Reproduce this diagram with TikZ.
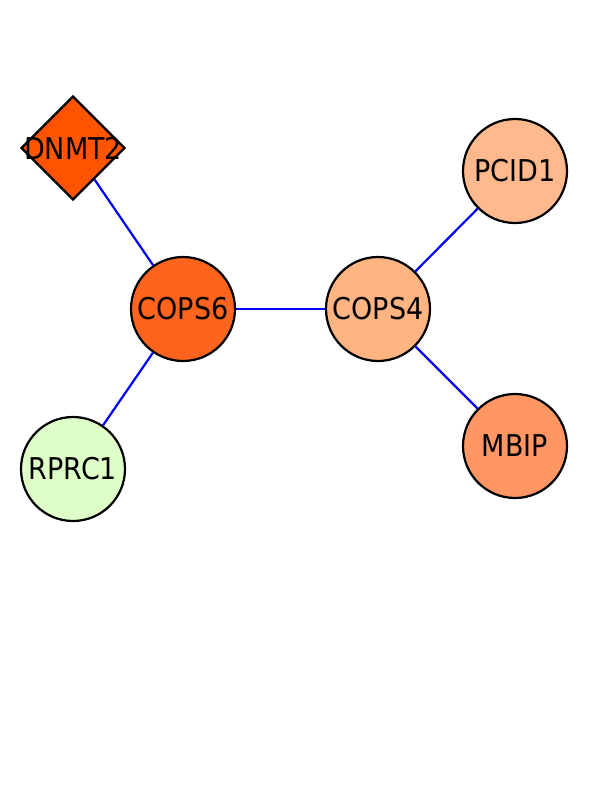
\documentclass[tikz,border=0pt]{standalone}
\usepackage{fontspec}
\setmainfont{DejaVu Sans Condensed}
\usetikzlibrary{shapes.geometric}
\definecolor{dnmtfill}{RGB}{255, 85, 0}
\definecolor{copssixfill}{RGB}{255, 100, 30}
\definecolor{copsfourfill}{RGB}{255, 180, 130}
\definecolor{pcidfill}{RGB}{255, 185, 140}
\definecolor{mbipfill}{RGB}{255, 150, 100}
\definecolor{rprcfill}{RGB}{222, 255, 200}
\definecolor{edgeblue}{RGB}{0, 0, 255}

\begin{document}
\begin{tikzpicture}[x=1pt, y=-1pt,
  every node/.style={font=\fontsize{30}{32}\selectfont},
  gene/.style={draw, line width=2.2pt, circle, minimum size=104pt, inner sep=0pt},
  link/.style={draw=edgeblue, line width=2.2pt}]
  \useasboundingbox (0,0) rectangle (612,792);
  \node[draw, line width=2.2pt, diamond, fill=dnmtfill, minimum size=104pt, inner sep=0pt, label={center:DNMT2}] (dnmt) at (73,148) {};
  \node[gene, fill=copssixfill] (cops6) at (183,309) {COPS6};
  \node[gene, fill=copsfourfill] (cops4) at (378,309) {COPS4};
  \node[gene, fill=pcidfill] (pcid) at (515,171) {PCID1};
  \node[gene, fill=mbipfill] (mbip) at (515,446) {MBIP};
  \node[gene, fill=rprcfill] (rprc) at (73,469) {RPRC1};
  \draw[link] (dnmt) -- (cops6);
  \draw[link] (cops6) -- (cops4);
  \draw[link] (cops6) -- (rprc);
  \draw[link] (cops4) -- (pcid);
  \draw[link] (cops4) -- (mbip);
\end{tikzpicture}
\end{document}
